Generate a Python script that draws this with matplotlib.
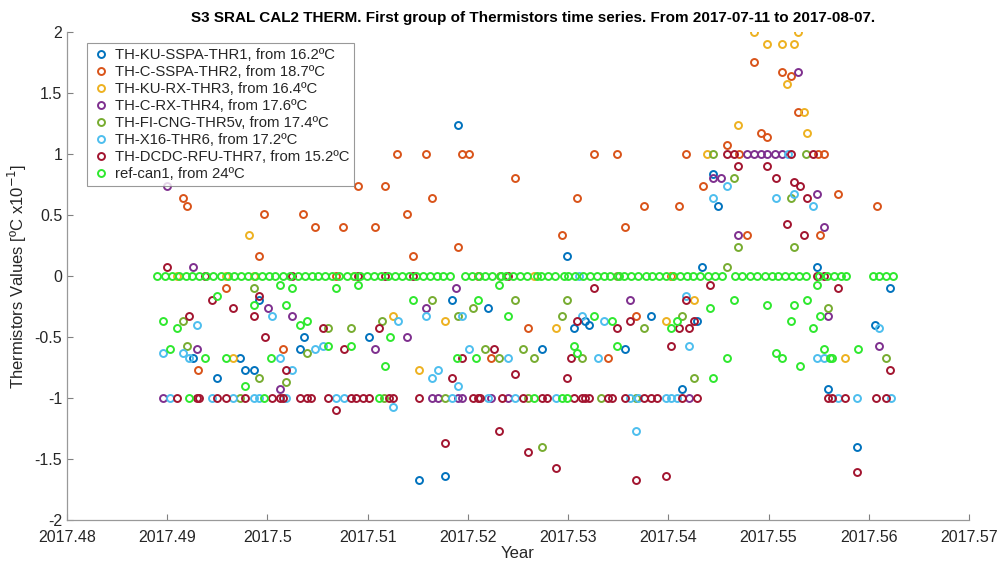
import matplotlib
matplotlib.use('Agg')
import matplotlib.pyplot as plt
from matplotlib.ticker import FixedLocator, FixedFormatter

# Thermistor offsets [degC x10^-1] relative to the first reading, versus decimal year

# TH-KU-SSPA-THR1
t_thr1 = [2017.4926, 2017.4950, 2017.4973, 2017.4978, 2017.4987, 2017.4992, 2017.5032, 2017.5036,
          2017.5101, 2017.5151, 2017.5177, 2017.5184, 2017.5190, 2017.5220, 2017.5274, 2017.5299,
          2017.5306, 2017.5317, 2017.5321, 2017.5357, 2017.5383, 2017.5414, 2017.5429, 2017.5434,
          2017.5445, 2017.5450, 2017.5548, 2017.5559, 2017.5588, 2017.5606, 2017.5621]
v_thr1 = [-0.67, -0.84, -0.67, -0.77, -0.77, -0.20, -0.60, -0.50,
          -0.50, -1.67, -1.64, -0.20, 1.24, -0.26, -0.60, 0.16,
          -0.43, -0.37, -0.40, -0.60, -0.33, -0.93, -0.37, 0.07,
          0.84, 0.57, 0.07, -0.93, -1.40, -0.40, -0.10]

# TH-C-SSPA-THR2
t_thr2 = [2017.4916, 2017.4920, 2017.4931, 2017.4959, 2017.4992, 2017.4997, 2017.5016, 2017.5035,
          2017.5047, 2017.5068, 2017.5075, 2017.5090, 2017.5107, 2017.5117, 2017.5129, 2017.5139,
          2017.5145, 2017.5158, 2017.5164, 2017.5190, 2017.5194, 2017.5201, 2017.5210, 2017.5223,
          2017.5247, 2017.5260, 2017.5294, 2017.5309, 2017.5326, 2017.5340, 2017.5349, 2017.5357,
          2017.5368, 2017.5376, 2017.5403, 2017.5411, 2017.5418, 2017.5435, 2017.5459, 2017.5471,
          2017.5478, 2017.5485, 2017.5492, 2017.5498, 2017.5513, 2017.5522, 2017.5529, 2017.5549,
          2017.5551, 2017.5555, 2017.5569, 2017.5608]
v_thr2 = [0.64, 0.57, -0.77, -0.10, 0.16, 0.51, -0.60, 0.51,
          0.40, 0.00, 0.40, 0.74, 0.40, 0.74, 1.00, 0.51,
          0.16, 1.00, 0.64, 0.24, 1.00, 1.00, 0.00, -0.67,
          0.80, -0.43, 0.34, 0.64, 1.00, -0.67, 1.00, 0.40,
          -0.33, 0.57, 0.00, 0.57, 1.00, 0.74, 1.07, 1.00,
          0.34, 1.75, 1.17, 1.14, 1.67, 1.64, 1.34, 1.00,
          0.34, 1.00, 0.67, 0.57]

# TH-KU-RX-THR3
t_thr3 = [2017.4910, 2017.4959, 2017.4966, 2017.4982, 2017.4987, 2017.5086, 2017.5125, 2017.5151,
          2017.5177, 2017.5266, 2017.5288, 2017.5398, 2017.5404, 2017.5426, 2017.5439, 2017.5470,
          2017.5485, 2017.5498, 2017.5513, 2017.5518, 2017.5525, 2017.5529, 2017.5535, 2017.5538,
          2017.5576]
v_thr3 = [0.00, 0.00, -0.67, 0.34, 0.00, 0.00, -0.33, -0.77,
          -0.37, 0.00, -0.43, -0.37, 0.00, -0.20, 1.00, 1.24,
          2.00, 1.90, 1.90, 1.57, 1.90, 2.00, 1.34, 1.17,
          -0.67]

# TH-C-RX-THR4
t_thr4 = [2017.4896, 2017.4900, 2017.4926, 2017.4930, 2017.5001, 2017.5013, 2017.5025, 2017.5107,
          2017.5139, 2017.5158, 2017.5164, 2017.5170, 2017.5188, 2017.5190, 2017.5194, 2017.5223,
          2017.5240, 2017.5362, 2017.5421, 2017.5445, 2017.5453, 2017.5470, 2017.5478, 2017.5485,
          2017.5492, 2017.5498, 2017.5506, 2017.5513, 2017.5529, 2017.5548, 2017.5555, 2017.5559,
          2017.5610]
v_thr4 = [-1.00, 0.74, 0.07, -0.60, -0.26, -0.93, -0.33, -0.60,
          -0.50, -0.26, -1.00, -1.00, -0.10, -1.00, -1.00, -1.00,
          -1.00, -0.20, -1.00, 0.80, 0.80, 0.34, 1.00, 1.00,
          1.00, 1.00, 1.00, 1.00, 1.67, 0.67, 0.40, -0.33,
          -0.57]

# TH-FI-CNG-THR5v
t_thr5 = [2017.4916, 2017.4920, 2017.4973, 2017.4987, 2017.4992, 2017.5019, 2017.5039, 2017.5060,
          2017.5083, 2017.5114, 2017.5116, 2017.5164, 2017.5177, 2017.5190, 2017.5205, 2017.5217,
          2017.5231, 2017.5232, 2017.5247, 2017.5255, 2017.5260, 2017.5266, 2017.5274, 2017.5294,
          2017.5299, 2017.5314, 2017.5333, 2017.5349, 2017.5368, 2017.5376, 2017.5414, 2017.5426,
          2017.5445, 2017.5459, 2017.5466, 2017.5470, 2017.5522, 2017.5525, 2017.5537, 2017.5559,
          2017.5617]
v_thr5 = [-0.37, -0.57, -1.00, -0.10, -0.84, -0.87, -0.63, -0.43,
          -0.43, -0.37, -1.00, -0.20, -1.00, -0.33, -0.26, -0.60,
          -0.67, 0.00, -0.20, -0.60, -1.00, -0.67, -1.40, -0.33,
          -0.20, -0.67, -1.00, 0.00, -1.00, -0.43, -0.33, -0.84,
          1.00, 0.07, 0.80, 0.24, 0.64, 0.24, 1.00, -0.26,
          -0.67]

# TH-X16-THR6
t_thr6 = [2017.4896, 2017.4903, 2017.4916, 2017.4922, 2017.4930, 2017.4945, 2017.4966, 2017.4987,
          2017.4992, 2017.5005, 2017.5013, 2017.5019, 2017.5025, 2017.5047, 2017.5055, 2017.5068,
          2017.5076, 2017.5125, 2017.5130, 2017.5158, 2017.5164, 2017.5170, 2017.5184, 2017.5190,
          2017.5194, 2017.5201, 2017.5220, 2017.5240, 2017.5247, 2017.5288, 2017.5311, 2017.5314,
          2017.5330, 2017.5336, 2017.5362, 2017.5368, 2017.5370, 2017.5398, 2017.5403, 2017.5409,
          2017.5418, 2017.5421, 2017.5445, 2017.5459, 2017.5507, 2017.5519, 2017.5525, 2017.5544,
          2017.5548, 2017.5555, 2017.5569, 2017.5588, 2017.5610, 2017.5622]
v_thr6 = [-0.63, -1.00, -0.63, -0.67, -0.40, -1.00, -1.00, -1.00,
          -1.00, -0.33, -0.67, -1.00, -0.77, -0.60, -0.57, -1.00,
          -1.00, -1.07, -0.37, -0.33, -0.84, -0.77, -1.00, -0.90,
          -0.33, -0.60, -1.00, -0.67, -1.00, -1.00, 0.00, -0.33,
          -0.67, -0.37, -1.00, -1.27, -1.00, -1.00, -1.00, -1.00,
          -0.16, -0.57, 0.64, 0.74, 0.64, 1.00, 0.67, 0.57,
          -0.67, -0.67, -1.00, -1.00, -0.43, -1.00]

# TH-DCDC-RFU-THR7
t_thr7 = [2017.4900, 2017.4910, 2017.4922, 2017.4930, 2017.4932, 2017.4938, 2017.4945, 2017.4950,
          2017.4959, 2017.4966, 2017.4978, 2017.4987, 2017.4992, 2017.4998, 2017.5005, 2017.5013,
          2017.5016, 2017.5019, 2017.5025, 2017.5032, 2017.5039, 2017.5043, 2017.5055, 2017.5060,
          2017.5068, 2017.5076, 2017.5083, 2017.5088, 2017.5090, 2017.5095, 2017.5101, 2017.5111,
          2017.5117, 2017.5121, 2017.5125, 2017.5145, 2017.5151, 2017.5177, 2017.5184, 2017.5194,
          2017.5205, 2017.5210, 2017.5212, 2017.5226, 2017.5231, 2017.5234, 2017.5240, 2017.5247,
          2017.5255, 2017.5260, 2017.5274, 2017.5279, 2017.5288, 2017.5299, 2017.5303, 2017.5306,
          2017.5309, 2017.5314, 2017.5317, 2017.5321, 2017.5326, 2017.5340, 2017.5344, 2017.5349,
          2017.5357, 2017.5362, 2017.5368, 2017.5376, 2017.5383, 2017.5389, 2017.5398, 2017.5403,
          2017.5411, 2017.5414, 2017.5418, 2017.5421, 2017.5426, 2017.5429, 2017.5442, 2017.5459,
          2017.5466, 2017.5470, 2017.5498, 2017.5507, 2017.5518, 2017.5522, 2017.5525, 2017.5531,
          2017.5535, 2017.5538, 2017.5544, 2017.5548, 2017.5555, 2017.5559, 2017.5563, 2017.5569,
          2017.5576, 2017.5588, 2017.5607, 2017.5617, 2017.5621]
v_thr7 = [0.07, -1.00, -0.33, -1.00, -1.00, 0.00, -0.20, -1.00,
          -1.00, -0.26, -1.00, -0.33, -0.16, -0.50, -1.00, -1.00,
          -1.00, -0.77, 0.00, -1.00, -1.00, -1.00, -0.43, -1.00,
          -1.10, -0.60, -1.00, -1.00, 0.00, -1.00, -1.00, -0.43,
          0.00, -1.00, -1.00, 0.00, -1.00, -1.37, -0.84, -0.67,
          -1.00, -1.00, -1.00, -0.60, -1.27, -1.00, 0.00, -0.80,
          -1.00, -1.44, -1.00, -1.00, -1.57, -0.84, -0.67, -1.00,
          -0.37, -1.00, -1.00, -1.00, -0.10, -1.00, -1.00, -0.43,
          -1.00, -0.37, -1.67, -1.00, -1.00, -1.00, -1.64, -0.57,
          -0.43, -1.00, -0.20, -0.43, -0.37, -1.00, -0.07, 1.00,
          1.00, 0.90, 0.90, 0.80, 0.43, 1.00, 0.77, 0.74,
          0.34, 0.64, 1.00, 0.00, 0.00, -1.00, -1.00, -0.10,
          -1.00, -1.61, -1.00, -1.00, -0.77]

# ref-can1
t_ref = [2017.4890, 2017.4896, 2017.4898, 2017.4903, 2017.4905, 2017.4910, 2017.4912, 2017.4919,
         2017.4922, 2017.4925, 2017.4932, 2017.4938, 2017.4939, 2017.4946, 2017.4950, 2017.4954,
         2017.4959, 2017.4961, 2017.4967, 2017.4974, 2017.4978, 2017.4981, 2017.4987, 2017.4988,
         2017.4995, 2017.4997, 2017.5002, 2017.5004, 2017.5008, 2017.5013, 2017.5016, 2017.5019,
         2017.5023, 2017.5025, 2017.5030, 2017.5032, 2017.5037, 2017.5039, 2017.5044, 2017.5050,
         2017.5057, 2017.5060, 2017.5064, 2017.5068, 2017.5071, 2017.5079, 2017.5083, 2017.5086,
         2017.5090, 2017.5092, 2017.5099, 2017.5106, 2017.5111, 2017.5113, 2017.5117, 2017.5120,
         2017.5122, 2017.5127, 2017.5134, 2017.5141, 2017.5145, 2017.5148, 2017.5155, 2017.5162,
         2017.5169, 2017.5175, 2017.5182, 2017.5189, 2017.5197, 2017.5204, 2017.5208, 2017.5210,
         2017.5211, 2017.5217, 2017.5224, 2017.5231, 2017.5233, 2017.5238, 2017.5240, 2017.5245,
         2017.5252, 2017.5259, 2017.5266, 2017.5269, 2017.5273, 2017.5280, 2017.5287, 2017.5294,
         2017.5296, 2017.5299, 2017.5300, 2017.5306, 2017.5307, 2017.5309, 2017.5315, 2017.5322,
         2017.5326, 2017.5329, 2017.5336, 2017.5342, 2017.5344, 2017.5349, 2017.5351, 2017.5356,
         2017.5363, 2017.5370, 2017.5378, 2017.5384, 2017.5391, 2017.5398, 2017.5403, 2017.5405,
         2017.5409, 2017.5412, 2017.5419, 2017.5425, 2017.5432, 2017.5440, 2017.5442, 2017.5445,
         2017.5447, 2017.5454, 2017.5459, 2017.5466, 2017.5467, 2017.5474, 2017.5481, 2017.5488,
         2017.5496, 2017.5498, 2017.5503, 2017.5507, 2017.5509, 2017.5513, 2017.5516, 2017.5522,
         2017.5523, 2017.5525, 2017.5530, 2017.5531, 2017.5537, 2017.5538, 2017.5544, 2017.5548,
         2017.5550, 2017.5551, 2017.5555, 2017.5558, 2017.5561, 2017.5563, 2017.5565, 2017.5572,
         2017.5577, 2017.5589, 2017.5604, 2017.5610, 2017.5617, 2017.5624]
v_ref = [0.00, -0.37, 0.00, -0.60, 0.00, -0.43, 0.00, 0.00,
         -1.00, 0.00, 0.00, -0.67, 0.00, 0.00, -0.16, 0.00,
         -0.67, 0.00, 0.00, 0.00, -0.90, 0.00, -0.24, 0.00,
         0.00, -1.00, 0.00, -0.67, 0.00, -0.07, 0.00, -0.24,
         0.00, -0.10, 0.00, -0.40, 0.00, -0.37, 0.00, 0.00,
         0.00, -0.57, 0.00, -0.10, 0.00, 0.00, -0.57, 0.00,
         -0.07, 0.00, 0.00, 0.00, -1.00, 0.00, -0.74, 0.00,
         -0.50, 0.00, 0.00, 0.00, -0.20, 0.00, 0.00, 0.00,
         0.00, 0.00, 0.00, -0.67, 0.00, 0.00, -0.67, -0.20,
         0.00, 0.00, 0.00, -0.07, 0.00, 0.00, -0.33, 0.00,
         0.00, 0.00, -1.00, 0.00, 0.00, 0.00, 0.00, -1.00,
         0.00, -1.00, 0.00, -0.57, 0.00, -0.63, 0.00, 0.00,
         -0.33, 0.00, 0.00, 0.00, -0.37, -0.57, 0.00, 0.00,
         0.00, 0.00, 0.00, 0.00, 0.00, 0.00, -0.43, 0.00,
         -0.37, 0.00, 0.00, 0.00, 0.00, 0.00, -0.26, -0.84,
         0.00, 0.00, -0.67, -0.20, 0.00, 0.00, 0.00, 0.00,
         0.00, -0.24, 0.00, -0.63, 0.00, -0.67, 0.00, -0.37,
         0.00, -0.24, 0.00, -0.74, 0.00, -0.20, -0.43, -0.07,
         0.00, -0.33, -0.60, 0.00, -0.67, -0.67, 0.00, 0.00,
         0.00, -0.60, 0.00, 0.00, 0.00, 0.00]

labels = ['TH-KU-SSPA-THR1, from 16.2ºC', 'TH-C-SSPA-THR2, from 18.7ºC',
          'TH-KU-RX-THR3, from 16.4ºC', 'TH-C-RX-THR4, from 17.6ºC',
          'TH-FI-CNG-THR5v, from 17.4ºC', 'TH-X16-THR6, from 17.2ºC',
          'TH-DCDC-RFU-THR7, from 15.2ºC', 'ref-can1, from 24ºC']

x_ticks = [2017.48, 2017.49, 2017.50, 2017.51, 2017.52, 2017.53, 2017.54, 2017.55, 2017.56, 2017.57]
x_ticklabels = ['2017.48', '2017.49', '2017.5', '2017.51', '2017.52', '2017.53',
                '2017.54', '2017.55', '2017.56', '2017.57']
y_ticks = [-2, -1.5, -1, -0.5, 0, 0.5, 1, 1.5, 2]
y_ticklabels = ['-2', '-1.5', '-1', '-0.5', '0', '0.5', '1', '1.5', '2']

series = [(t_thr1, v_thr1), (t_thr2, v_thr2), (t_thr3, v_thr3), (t_thr4, v_thr4),
          (t_thr5, v_thr5), (t_thr6, v_thr6), (t_thr7, v_thr7), (t_ref, v_ref)]
colors = ['#0072BD', '#D95319', '#EDB120', '#7E2F8E', '#77AC30', '#4DBEEE', '#A2142F', '#2EE82E']

plt.rcParams['font.family'] = ['Liberation Sans', 'DejaVu Sans']

fig = plt.figure(figsize=(10.03, 5.66), dpi=100, facecolor='w')
ax = fig.add_axes([0.0668, 0.0813, 0.8993, 0.8622])

for (t, v), c, lab in zip(series, colors, labels):
    ax.plot(t, v, 'o', ls='none', mfc='none', mec=c, ms=5, mew=1.4, label=lab)

ax.set_xlim(2017.48, 2017.57)
ax.set_ylim(-2, 2)
ax.xaxis.set_major_locator(FixedLocator(x_ticks))
ax.xaxis.set_major_formatter(FixedFormatter(x_ticklabels))
ax.yaxis.set_major_locator(FixedLocator(y_ticks))
ax.yaxis.set_major_formatter(FixedFormatter(y_ticklabels))

ax.tick_params(direction='in', length=4, width=0.8, color='#808080',
               labelsize=11.5, labelcolor='#262626')
ax.tick_params(axis='x', pad=7)
for spine in ('top', 'right'):
    ax.spines[spine].set_visible(False)
for spine in ('bottom', 'left'):
    ax.spines[spine].set_color('#999999')
    ax.spines[spine].set_linewidth(0.9)

ax.set_xlabel('Year', fontsize=12, color='#262626', labelpad=1)
ax.set_ylabel('Thermistors Values [ºC x10$^{-1}$]', fontsize=12, color='#262626', labelpad=4)
ax.set_title('S3 SRAL CAL2 THERM. First group of Thermistors time series. From 2017-07-11 to 2017-08-07.',
             fontsize=11, fontweight='bold', family=['Liberation Sans'], pad=7, x=0.517)

leg = ax.legend(loc='upper left', bbox_to_anchor=(0.0222, 0.977), fontsize=10.7,
                handletextpad=0.3, handlelength=1.2, labelspacing=0.2, borderpad=0.35,
                fancybox=False, borderaxespad=0)
leg.get_frame().set_edgecolor('#808080')
leg.get_frame().set_linewidth(0.8)
for t in leg.get_texts():
    t.set_color('#262626')

plt.savefig('out.png', dpi=100)
